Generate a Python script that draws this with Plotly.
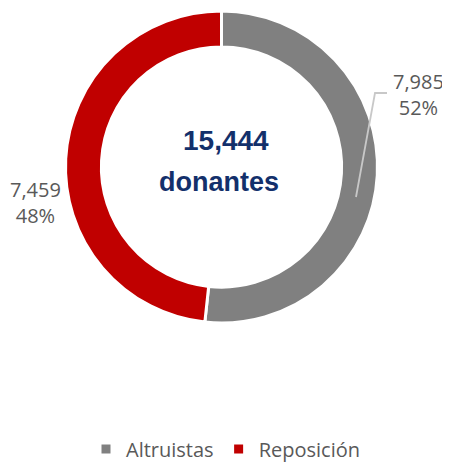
import plotly.graph_objects as go

categories = ["Altruistas", "Reposición"]
values = [7985, 7459]
colors = ["#808080", "#C00000"]
center_label = "donantes"

total = sum(values)
pcts = [round(v / total * 100) for v in values]

W, H = 450, 462
OFF = 8  # page body margin offset
cx, cy, R = 221.5 - OFF, 167 - OFF, 156


def px(x):
    return (x - OFF) / W


def py(y):
    return 1 - (y - OFF) / H


fig = go.Figure(go.Pie(
    labels=categories,
    values=values,
    hole=0.77,
    sort=False,
    direction="clockwise",
    rotation=0,
    marker=dict(colors=colors, line=dict(color="white", width=3)),
    textinfo="none",
    hoverinfo="label+value+percent",
    domain=dict(x=[(cx - R) / W, (cx + R) / W], y=[1 - (cy + R) / H, 1 - (cy - R) / H]),
))

label_font = dict(family="Open Sans, Noto Sans, sans-serif", size=20, color="#595959")

fig.add_annotation(x=px(418), y=py(94), xref="paper", yref="paper",
                   xanchor="center", yanchor="middle",
                   text=f"{values[0]:,}<br>{pcts[0]}%", showarrow=False,
                   font=label_font, align="center")
fig.add_annotation(x=px(35), y=py(202), xref="paper", yref="paper",
                   xanchor="center", yanchor="middle",
                   text=f"{values[1]:,}<br>{pcts[1]}%", showarrow=False,
                   font=label_font, align="center")

# leader line for first label
fig.add_shape(type="path", xref="paper", yref="paper",
              path=f"M {px(356)} {py(197)} L {px(375)} {py(93)} L {px(387)} {py(93)}",
              line=dict(color="#C8C8C8", width=1.8))

center_font = dict(family="Liberation Sans Narrow, Arial Narrow, Liberation Sans, sans-serif",
                   size=28, color="#13306B")
fig.add_annotation(x=px(225.5), y=py(141), xref="paper", yref="paper",
                   xanchor="center", yanchor="middle",
                   text=f"<b>{total:,}</b>", showarrow=False, font=center_font)
fig.add_annotation(x=px(219), y=py(182), xref="paper", yref="paper",
                   xanchor="center", yanchor="middle",
                   text=f"<b>{center_label}</b>", showarrow=False,
                   font=dict(center_font, size=27))

fig.update_layout(
    width=W, height=H,
    margin=dict(l=0, r=0, t=0, b=0),
    paper_bgcolor="white",
    plot_bgcolor="white",
    showlegend=True,
    legend=dict(orientation="h", x=px(86), xanchor="left", y=py(449), yanchor="middle",
                font=label_font, traceorder="normal", itemwidth=30),
)

fig.write_html("out.html")
